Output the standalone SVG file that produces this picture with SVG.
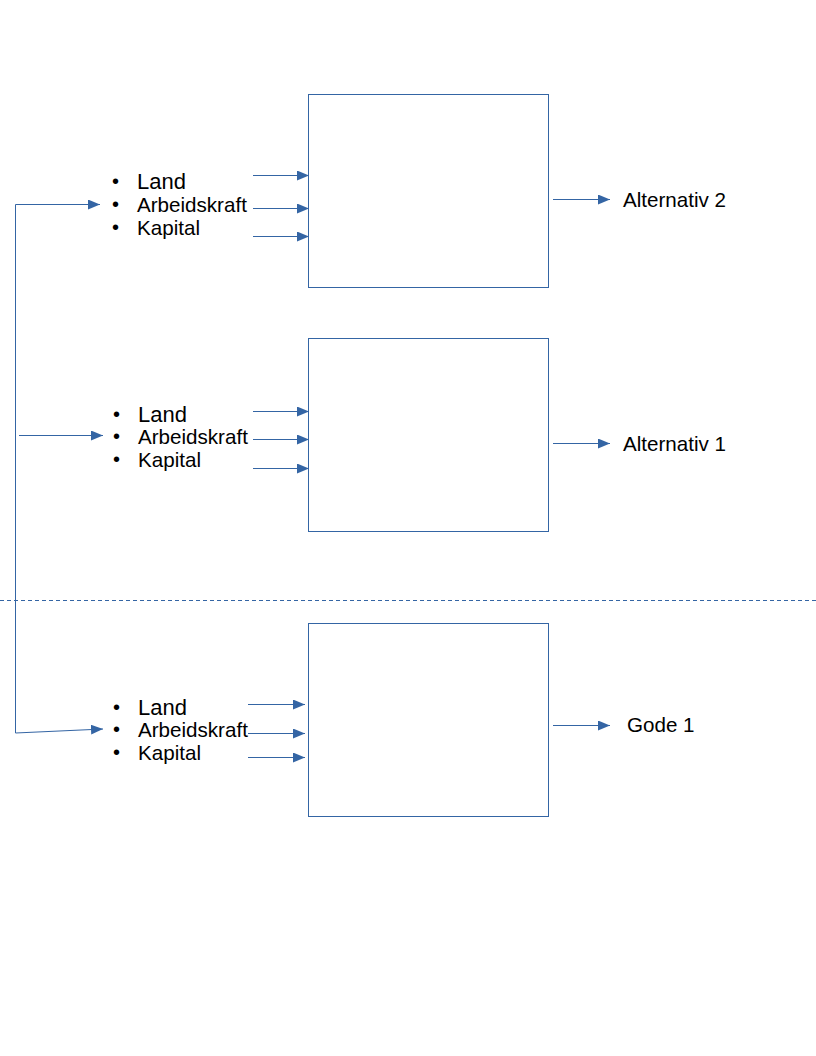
<svg xmlns="http://www.w3.org/2000/svg" width="816" height="1056" viewBox="0 0 816 1056">
<style>
.box{fill:#fff;stroke:#3465a4;stroke-width:1}
.ln{stroke:#3465a4;stroke-width:1;fill:none}
.ar{stroke:#3465a4;stroke-width:1;fill:none;marker-end:url(#ah)}
text{font-family:"Liberation Sans",Arial,sans-serif;fill:#000}
.big{font-size:22px}
.t{font-size:20.6px}
.b{font-size:20px}
</style>
<defs>
<marker id="ah" viewBox="0 0 12 10" refX="12" refY="5" markerWidth="12" markerHeight="10" markerUnits="userSpaceOnUse" orient="auto">
<path d="M0,0 L12,5 L0,10 z" fill="#3465a4"/>
</marker>
</defs>
<rect width="816" height="1056" fill="#fff"/>
<g id="box1"><rect class="box" x="308.5" y="94.5" width="240" height="193"/></g>
<g id="box2"><rect class="box" x="308.5" y="338.5" width="240" height="193"/></g>
<g id="box3"><rect class="box" x="308.5" y="623.5" width="240" height="193"/></g>
<g id="list1">
<text class="b" x="112" y="188">•</text><text class="big" x="137" y="189">Land</text>
<text class="b" x="112" y="211">•</text><text class="t" x="137" y="212">Arbeidskraft</text>
<text class="b" x="112" y="234">•</text><text class="t" x="137" y="235">Kapital</text>
</g>
<g id="list2">
<text class="b" x="113" y="421">•</text><text class="big" x="138" y="422">Land</text>
<text class="b" x="113" y="443">•</text><text class="t" x="138" y="444">Arbeidskraft</text>
<text class="b" x="113" y="466">•</text><text class="t" x="138" y="467">Kapital</text>
</g>
<g id="list3">
<text class="b" x="113" y="714">•</text><text class="big" x="138" y="715">Land</text>
<text class="b" x="113" y="736">•</text><text class="t" x="138" y="737">Arbeidskraft</text>
<text class="b" x="113" y="759">•</text><text class="t" x="138" y="760">Kapital</text>
</g>
<g id="out1"><text class="t" x="623" y="207">Alternativ 2</text></g>
<g id="out2"><text class="t" x="623" y="451">Alternativ 1</text></g>
<g id="out3"><text class="t" x="627" y="732">Gode 1</text></g>
<g id="connectors">
<line class="ar" x1="253" y1="175.5" x2="309" y2="175.5"/>
<line class="ar" x1="253" y1="208.5" x2="309" y2="208.5"/>
<line class="ar" x1="253" y1="236.5" x2="309" y2="236.5"/>
<line class="ar" x1="553" y1="199.5" x2="610" y2="199.5"/>
<line class="ar" x1="253" y1="411.5" x2="309" y2="411.5"/>
<line class="ar" x1="253" y1="439.5" x2="309" y2="439.5"/>
<line class="ar" x1="253" y1="468.5" x2="309" y2="468.5"/>
<line class="ar" x1="553" y1="443.5" x2="610" y2="443.5"/>
<line class="ar" x1="248" y1="704.5" x2="305" y2="704.5"/>
<line class="ar" x1="248" y1="733.5" x2="305" y2="733.5"/>
<line class="ar" x1="248" y1="757.5" x2="305" y2="757.5"/>
<line class="ar" x1="553" y1="725.5" x2="610" y2="725.5"/>
<polyline class="ar" points="15.5,733 15.5,204.5 100,204.5"/>
<line class="ar" x1="19" y1="435.5" x2="103" y2="435.5"/>
<line class="ar" x1="15.5" y1="733" x2="103" y2="729"/>
<line class="ln" x1="0" y1="600.5" x2="816" y2="600.5" stroke-dasharray="4,3"/>
</g>
</svg>
